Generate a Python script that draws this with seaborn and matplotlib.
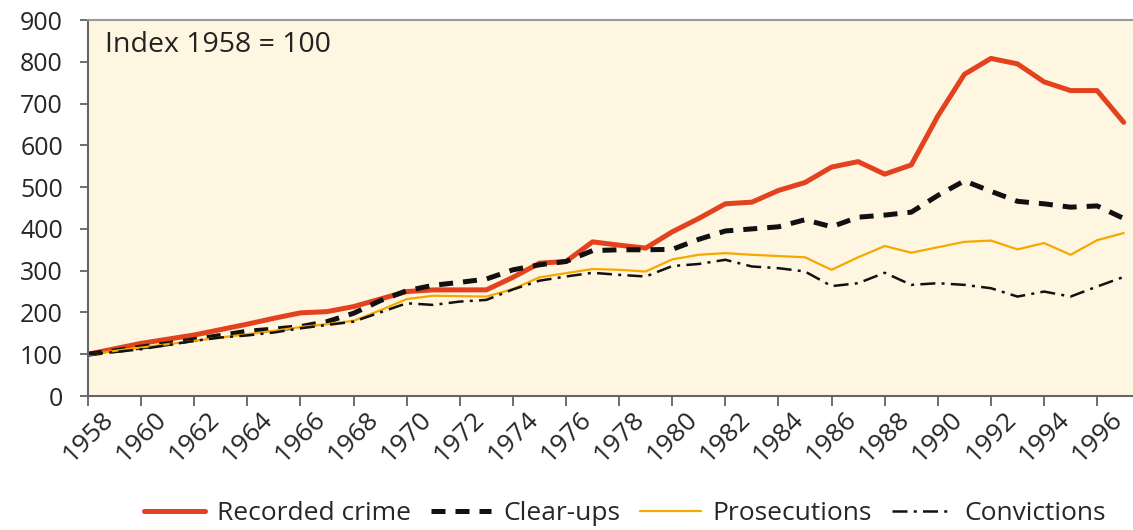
import pandas as pd
import seaborn as sns
import matplotlib.pyplot as plt
import numpy as np

# Data (index, 1958 = 100)
years = list(range(1958, 1998))

recorded_crime = [100, 113, 126, 136, 146, 159, 172, 186, 199, 202,
                  214, 232, 250, 254, 254, 254, 284, 318, 322, 369,
                  361, 354, 393, 425, 460, 464, 492, 511, 548, 561,
                  531, 553, 670, 770, 808, 795, 752, 731, 731, 655]

clear_ups = [100, 108, 117, 125, 135, 145, 155, 160, 166, 178,
             198, 228, 252, 265, 272, 280, 302, 314, 322, 348,
             350, 350, 351, 375, 395, 400, 405, 422, 405, 428,
             433, 440, 480, 515, 490, 466, 460, 452, 455, 425]

prosecutions = [98, 108, 116, 124, 132, 140, 148, 156, 165, 172,
                180, 205, 232, 240, 239, 238, 256, 284, 294, 304,
                302, 298, 327, 338, 342, 338, 335, 332, 302, 332,
                359, 343, 356, 369, 372, 351, 366, 338, 373, 390]

convictions = [100, 105, 112, 122, 132, 140, 145, 152, 162, 170,
               178, 200, 222, 218, 226, 230, 255, 276, 286, 295,
               290, 286, 311, 316, 326, 310, 306, 298, 263, 270,
               295, 266, 270, 266, 258, 238, 250, 238, 262, 285]

series_names = ["Recorded crime", "Clear-ups", "Prosecutions", "Convictions"]
colors = ["#E2421D", "#111111", "#F6A800", "#111111"]
widths = [3.6, 3.6, 1.6, 1.8]
dash_styles = ["", (2.8, 2.0), "", (6, 2.5, 1.2, 2.5)]

df = pd.DataFrame({
    "year": years * 4,
    "value": recorded_crime + clear_ups + prosecutions + convictions,
    "series": np.repeat(series_names, len(years)),
})

sns.set_style("ticks")
plt.rcParams["font.family"] = ["Open Sans", "DejaVu Sans"]

fig = plt.figure(figsize=(11.33, 5.30), dpi=100)
ax = fig.add_axes([88 / 1133, 134 / 530, 1045 / 1133, 376 / 530])
ax.set_facecolor("#FEF6E1")

sns.lineplot(data=df, x="year", y="value", hue="series", style="series",
             size="series", hue_order=series_names, style_order=series_names,
             size_order=series_names,
             palette=dict(zip(series_names, colors)),
             dashes=dict(zip(series_names, dash_styles)),
             sizes=dict(zip(series_names, widths)),
             legend=False, ax=ax)

ax.set_xlim(1958, 1997.35)
ax.set_ylim(0, 900)
ax.set_xticks(years[::2])
ax.set_yticks(range(0, 901, 100))
ax.set_xlabel("")
ax.set_ylabel("")
ax.tick_params(axis="x", labelsize=19, rotation=45, length=7, width=1.2,
               color="#555555", pad=1)
ax.tick_params(axis="y", labelsize=18, length=6, width=1.2,
               color="#555555", pad=12)
for lab in ax.get_xticklabels():
    lab.set_horizontalalignment("center")

ax.spines["right"].set_visible(False)
ax.spines["top"].set_color("#999999")
ax.spines["top"].set_linewidth(1.5)
for side in ["left", "bottom"]:
    ax.spines[side].set_color("#666666")
    ax.spines[side].set_linewidth(1.5)

ax.text(0.016, 0.933, "Index 1958 = 100", transform=ax.transAxes,
        fontsize=20.5, va="center", ha="left", color="#222222")

ax.legend(handles=ax.get_lines()[:4], labels=series_names, loc="center",
          bbox_to_anchor=(625 / 1133, 16 / 530), bbox_transform=fig.transFigure,
          ncol=4, frameon=False, fontsize=19, handlelength=2.3,
          handletextpad=0.45, columnspacing=0.75)

fig.savefig("out.png", dpi=100)
